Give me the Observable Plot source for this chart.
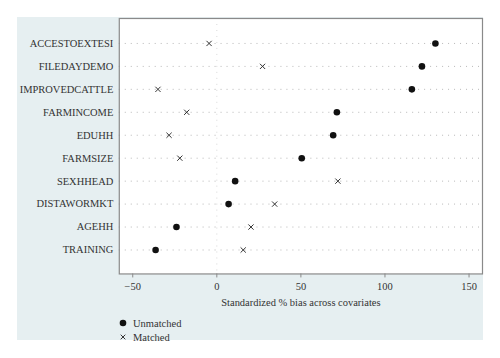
<!DOCTYPE html>
<html>
<head>
<meta charset="utf-8">
<script src="https://cdn.jsdelivr.net/npm/d3@7"></script>
<script src="https://cdn.jsdelivr.net/npm/@observablehq/plot@0.6"></script>
<style>
  html, body { margin: 0; padding: 0; background: #ffffff; }
  body { width: 500px; height: 358px; position: relative; overflow: hidden; font-family: "Liberation Serif", "DejaVu Serif", serif; }
  #panel { position: absolute; left: 17px; top: 17px; width: 466px; height: 323px; background: #e6eff1; }
  #chart { position: absolute; left: 0; top: 0; }
  #chart svg { overflow: visible; background: transparent; }
  #legend { position: absolute; left: 100px; top: 299px; font-size: 10.5px; color: #333; }
  .row { display: flex; align-items: center; height: 14px; }
  .row svg { width: 12px; height: 10px; margin-right: 4px; }
</style>
</head>
<body>
<div id="panel">
  <div id="chart"></div>
  <div id="legend"></div>
</div>
<script>
const variables = ["ACCESTOEXTESI", "FILEDAYDEMO", "IMPROVEDCATTLE", "FARMINCOME", "EDUHH", "FARMSIZE", "SEXHHEAD", "DISTAWORMKT", "AGEHH", "TRAINING"];
const unmatched = [130, 122, 116, 71.4, 69.2, 50.5, 10.9, 7, -24, -36.4];
const matched = [-4.6, 27.2, -35, -17.9, -28.4, -22, 72, 34.4, 20.3, 15.7];
const xTicks = [-50, 0, 50, 100, 150];
const seriesNames = ["Unmatched", "Matched"];

const dataU = variables.map((v, i) => ({variable: v, bias: unmatched[i]}));
const dataM = variables.map((v, i) => ({variable: v, bias: matched[i]}));

const chart = Plot.plot({
  width: 467,
  height: 295,
  marginLeft: 102,
  marginRight: 1,
  marginTop: 1,
  marginBottom: 38,
  style: {fontFamily: "'Liberation Serif', 'DejaVu Serif', serif", fontSize: "10.5px", color: "#333", background: "transparent"},
  x: {domain: [-58, 158]},
  y: {domain: variables, type: "point", padding: 1},
  marks: [
    Plot.frame({fill: "white", stroke: "none"}),
    Plot.gridY({stroke: "#b8b8b8", strokeOpacity: 1, strokeDasharray: "1,5", strokeWidth: 1}),
    Plot.ruleX([0], {stroke: "#d8d8d8", strokeDasharray: "1,5", strokeWidth: 1}),
    Plot.frame({stroke: "#8a8a8a", strokeWidth: 1.2}),
    Plot.axisX({ticks: xTicks, tickSize: 4, tickPadding: 5, stroke: "#8a8a8a", label: "Standardized % bias across covariates", labelAnchor: "center", labelOffset: 32, labelArrow: "none"}),
    Plot.axisY({tickSize: 0, tickPadding: 6, label: null}),
    Plot.dot(dataU, {x: "bias", y: "variable", r: 3.3, fill: "#111", stroke: "none"}),
    Plot.dot(dataM, {x: "bias", y: "variable", symbol: "times", r: 2.5, stroke: "#333", strokeWidth: 1})
  ]
});
document.getElementById("chart").appendChild(chart);

const legend = document.getElementById("legend");
seriesNames.forEach((name, i) => {
  const row = document.createElement("div");
  row.className = "row";
  const sym = i === 0
    ? '<svg viewBox="-6 -5 12 10"><circle r="3.3" fill="#111"/></svg>'
    : '<svg viewBox="-6 -5 12 10"><path d="M-2.3,-2.3L2.3,2.3M2.3,-2.3L-2.3,2.3" stroke="#333" stroke-width="1"/></svg>';
  row.innerHTML = sym + '<span>' + name + '</span>';
  legend.appendChild(row);
});
</script>
</body>
</html>
